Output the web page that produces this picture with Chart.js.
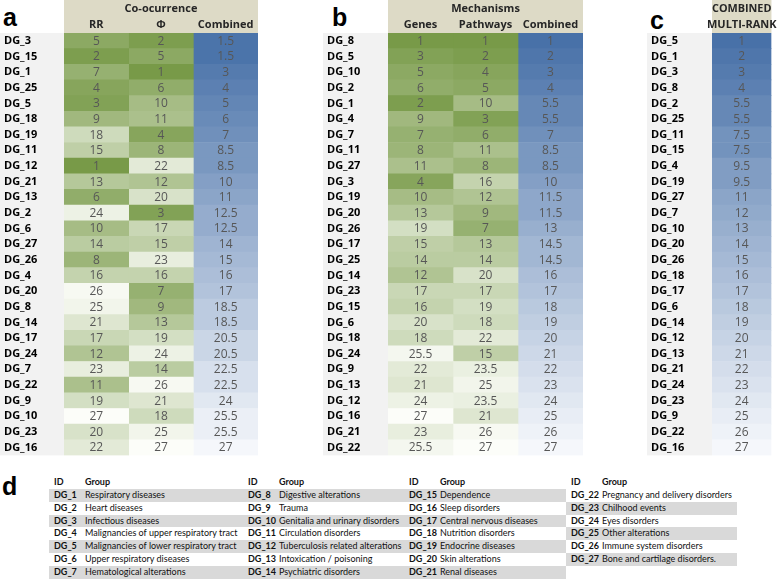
<!DOCTYPE html>
<html>
<head>
<meta charset="utf-8">
<script src="https://cdn.jsdelivr.net/npm/chart.js@4.4.1/dist/chart.umd.min.js"></script>
<style>
  body { margin: 0; background: #fff; width: 778px; height: 579px; overflow: hidden; position: relative; }
  canvas { position: absolute; top: 0; }
  .tag { position: absolute; font: bold 25px 'Liberation Sans', Arial, sans-serif; line-height: 1; color: #000; }
  .lgcol { position: absolute; top: 476px; font: 9px Lato, sans-serif; color: #111; }
  .lgrow { position: relative; height: 12.85px; line-height: 12.85px; white-space: nowrap; }
  .lgrow.band { background: #d9d9d9; }
  .lgrow .id { position: absolute; left: 5px; font-weight: bold; }
  .lgrow .nm { position: absolute; left: 36px; }
  .lgrow.head { font-weight: bold; }
</style>
</head>
<body>
<div class="tag" style="left:3px;top:5px">a</div>
<div class="tag" style="left:332px;top:5px">b</div>
<div class="tag" style="left:650px;top:8px">c</div>
<div class="tag" style="left:2px;top:474px">d</div>
<canvas id="panelA" width="258" height="462" style="left:0px"></canvas>
<canvas id="panelB" width="260" height="462" style="left:323px"></canvas>
<canvas id="panelC" width="131" height="462" style="left:647px"></canvas>
<div id="legend"></div>
<script>
// panel a: co-occurrence ranks
const rowsA = ['DG_3', 'DG_15', 'DG_1', 'DG_25', 'DG_5', 'DG_18', 'DG_19', 'DG_11', 'DG_12', 'DG_21', 'DG_13', 'DG_2', 'DG_6', 'DG_27',
  'DG_26', 'DG_4', 'DG_20', 'DG_8', 'DG_14', 'DG_17', 'DG_24', 'DG_7', 'DG_22', 'DG_9', 'DG_10', 'DG_23', 'DG_16'];
const rrRank = [5, 2, 7, 4, 3, 9, 18, 15, 1, 13, 6, 24, 10, 14, 8, 16, 26, 25, 21, 17, 12, 23, 11, 19, 27, 20, 22];
const phiRank = [2, 5, 1, 6, 10, 11, 4, 8, 22, 12, 20, 3, 17, 15, 23, 16, 7, 9, 13, 19, 24, 14, 26, 21, 18, 25, 27];
const coocCombined = [1.5, 1.5, 3, 4, 5, 6, 7, 8.5, 8.5, 10, 11, 12.5, 12.5, 14, 15, 16, 17, 18.5, 18.5, 20.5, 20.5, 22.5, 22.5, 24, 25.5, 25.5, 27];

// panel b: mechanism ranks
const rowsB = ['DG_8', 'DG_5', 'DG_10', 'DG_2', 'DG_1', 'DG_4', 'DG_7', 'DG_11', 'DG_27', 'DG_3', 'DG_19', 'DG_20', 'DG_26', 'DG_17',
  'DG_25', 'DG_14', 'DG_23', 'DG_15', 'DG_6', 'DG_18', 'DG_24', 'DG_9', 'DG_13', 'DG_12', 'DG_16', 'DG_21', 'DG_22'];
const genesRank = [1, 3, 5, 6, 2, 9, 7, 8, 11, 4, 10, 13, 19, 15, 14, 12, 17, 16, 20, 18, 25.5, 22, 21, 24, 27, 23, 25.5];
const pathwaysRank = [1, 2, 4, 5, 10, 3, 6, 11, 8, 16, 12, 9, 7, 13, 14, 20, 17, 19, 18, 22, 15, 23.5, 25, 23.5, 21, 26, 27];
const mechCombined = [1, 2, 3, 4, 5.5, 5.5, 7, 8.5, 8.5, 10, 11.5, 11.5, 13, 14.5, 14.5, 16, 17, 18, 19, 20, 21, 22, 23, 24, 25, 26, 27];

// panel c: combined multi-rank
const rowsC = ['DG_5', 'DG_1', 'DG_3', 'DG_8', 'DG_2', 'DG_25', 'DG_11', 'DG_15', 'DG_4', 'DG_19', 'DG_27', 'DG_7', 'DG_10', 'DG_20',
  'DG_26', 'DG_18', 'DG_17', 'DG_6', 'DG_14', 'DG_12', 'DG_13', 'DG_21', 'DG_24', 'DG_23', 'DG_9', 'DG_22', 'DG_16'];
const multiRank = [1, 2, 3, 4, 5.5, 5.5, 7.5, 7.5, 9.5, 9.5, 11, 12, 13, 14, 15, 16, 17, 18, 19, 20, 21, 22, 23, 24, 25, 26, 27];

// panel d: group names
const groupIds = ['DG_1', 'DG_2', 'DG_3', 'DG_4', 'DG_5', 'DG_6', 'DG_7', 'DG_8', 'DG_9', 'DG_10', 'DG_11', 'DG_12', 'DG_13', 'DG_14',
  'DG_15', 'DG_16', 'DG_17', 'DG_18', 'DG_19', 'DG_20', 'DG_21', 'DG_22', 'DG_23', 'DG_24', 'DG_25', 'DG_26', 'DG_27'];
const groupNames = ['Respiratory diseases', 'Heart diseases', 'Infectious diseases', 'Malignancies of upper respiratory tract',
  'Malignancies of lower respiratory tract', 'Upper respiratory diseases', 'Hematological alterations', 'Digestive alterations',
  'Trauma', 'Genitalia and urinary disorders', 'Circulation disorders', 'Tuberculosis related alterations', 'Intoxication / poisoning',
  'Psychiatric disorders', 'Dependence', 'Sleep disorders', 'Central nervous diseases', 'Nutrition disorders', 'Endocrine diseases',
  'Skin alterations', 'Renal diseases', 'Pregnancy and delivery disorders', 'Chilhood events', 'Eyes disorders', 'Other alterations',
  'Immune system disorders', 'Bone and cartilage disorders.'];

const GREEN = [[120, 154, 72], [252, 253, 249]];
const BLUE = [[72, 113, 168], [245, 247, 251]];

function scaleColor(v, pal) {
  const t = Math.min(1, Math.max(0, (v - 1) / 26));
  const c = pal[0].map((a, k) => Math.round(a + (pal[1][k] - a) * t));
  return 'rgb(' + c.join(',') + ')';
}

// fills header band and row-label column
const panelBg = {
  id: 'panelBg',
  beforeDraw(chart) {
    const { ctx, chartArea } = chart;
    ctx.save();
    ctx.fillStyle = '#f2f2f2';
    ctx.fillRect(0, chartArea.top, chartArea.left, chartArea.bottom - chartArea.top);
    ctx.fillStyle = '#dddac6';
    ctx.fillRect(chartArea.left, 0, chartArea.right - chartArea.left, chartArea.top);
    ctx.restore();
  }
};

// writes the rank inside each cell
const cellText = {
  id: 'cellText',
  afterDatasetsDraw(chart) {
    const ctx = chart.ctx;
    ctx.save();
    ctx.font = '12px "Open Sans", sans-serif';
    ctx.fillStyle = '#575757';
    ctx.textAlign = 'center';
    ctx.textBaseline = 'middle';
    chart.data.datasets.forEach((ds, i) => {
      chart.getDatasetMeta(i).data.forEach((bar, j) => {
        const p = bar.getProps(['x', 'y', 'base'], true);
        ctx.fillText(String(ds.ranks[j]), (p.x + p.base) / 2, p.y + 0.5);
      });
    });
    ctx.restore();
  }
};

function makePanel(id, rows, group, cols, series, palettes, labelWidth) {
  const headFont = { family: 'Open Sans', size: 11, weight: 'bold' };
  return new Chart(document.getElementById(id), {
    type: 'bar',
    data: {
      labels: rows,
      datasets: cols.map((name, c) => ({
        label: name,
        data: series[c].map(() => 1),
        ranks: series[c],
        backgroundColor: series[c].map(v => scaleColor(v, palettes[c])),
        borderWidth: 0,
        barPercentage: 1,
        categoryPercentage: 1
      }))
    },
    options: {
      indexAxis: 'y',
      responsive: false,
      animation: false,
      layout: { padding: { left: 4, right: 0, top: 0, bottom: 0 } },
      plugins: { legend: { display: false }, tooltip: { enabled: false } },
      scales: {
        x: {
          type: 'linear', position: 'top', stacked: true, min: 0, max: cols.length,
          grid: { display: false, drawTicks: false }, border: { display: false },
          afterBuildTicks: s => { s.ticks = cols.map((c, i) => ({ value: i + 0.5 })); },
          ticks: { callback: (v, i) => cols[i], autoSkip: false, maxRotation: 0, padding: 1.5, color: '#262626', font: headFont },
          title: { display: true, text: group, color: '#262626', font: headFont, padding: { top: 2.5, bottom: 0 } },
          afterFit: s => { s.height = 33; }
        },
        y: {
          type: 'category', stacked: true, offset: true,
          grid: { display: false, drawTicks: false }, border: { display: false },
          ticks: { crossAlign: 'far', autoSkip: false, padding: 0, color: '#000', font: { family: 'Open Sans', size: 11, weight: 'bold' } },
          afterFit: s => { s.width = labelWidth; }
        }
      }
    },
    plugins: [panelBg, cellText]
  });
}

makePanel('panelA', rowsA, 'Co-ocurrence', ['RR', 'Φ', 'Combined'], [rrRank, phiRank, coocCombined], [GREEN, GREEN, BLUE], 60);
makePanel('panelB', rowsB, 'Mechanisms', ['Genes', 'Pathways', 'Combined'], [genesRank, pathwaysRank, mechCombined], [GREEN, GREEN, BLUE], 61);
makePanel('panelC', rowsC, 'COMBINED', ['MULTI-RANK'], [multiRank], [BLUE], 61);

// legend table for panel d
const legendCols = [
  { left: 49, width: 194, from: 0, to: 7, bandOdd: true },
  { left: 243, width: 161, from: 7, to: 14, bandOdd: true },
  { left: 404, width: 162, from: 14, to: 21, bandOdd: true },
  { left: 566, width: 171, from: 21, to: 27, bandOdd: false }
];
const legend = document.getElementById('legend');
legendCols.forEach(col => {
  const div = document.createElement('div');
  div.className = 'lgcol';
  div.style.left = col.left + 'px';
  div.style.width = col.width + 'px';
  let html = '<div class="lgrow head"><span class="id">ID</span><span class="nm">Group</span></div>';
  for (let i = col.from; i < col.to; i++) {
    const k = i - col.from;
    const band = col.bandOdd ? k % 2 === 0 : k % 2 === 1;
    html += '<div class="lgrow' + (band ? ' band' : '') + '"><span class="id">' + groupIds[i] +
      '</span><span class="nm">' + groupNames[i] + '</span></div>';
  }
  div.innerHTML = html;
  legend.appendChild(div);
});
</script>
</body>
</html>
